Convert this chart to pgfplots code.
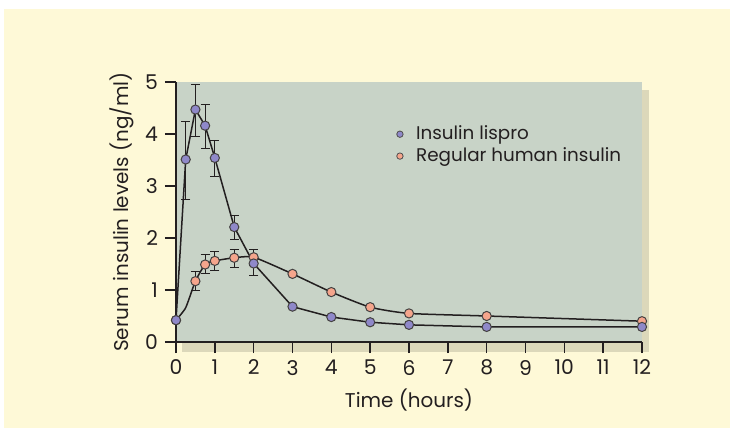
\documentclass[border=0pt]{standalone}
\usepackage{fontspec}
\setmainfont{Poppins}
\usepackage{pgfplots}
\pgfplotsset{compat=1.18}
\definecolor{cream}{HTML}{FEF9D7}
\definecolor{plotbg}{HTML}{C8D3C7}
\definecolor{shadowc}{HTML}{DCD8BA}
\definecolor{lispro}{HTML}{8F88C9}
\definecolor{regular}{HTML}{F5A58C}
\definecolor{ink}{HTML}{231F20}

\begin{document}
\begin{tikzpicture}
% background panels (axis box sits at (0,0) -- (233bp,130bp))
\fill[white] (-88bp,-44bp) rectangle (277bp,171bp);
\fill[cream] (-86bp,-43bp) rectangle (277bp,166.5bp);
\fill[shadowc] (3bp,-5bp) rectangle (236.5bp,126bp);
\begin{axis}[scale only axis, width=233bp, height=130bp,
  axis background/.style={fill=plotbg},
  xmin=0, xmax=12, ymin=0, ymax=5,
  axis x line*=bottom, axis y line*=left,
  axis line style={ink, line width=0.7bp},
  xtick={0,...,12}, ytick={0,...,5},
  tick style={ink, line width=0.7bp},
  tick align=outside, major tick length=5.5bp,
  /pgf/number format/assume math mode=true,
  tick label style={font=\fontsize{10.2}{12}\selectfont, text=ink},
  label style={font=\fontsize{10}{12}\selectfont, text=ink},
  xlabel={Time (hours)}, ylabel={Serum insulin levels (ng/ml)},
  xlabel style={at={(axis description cs:0.5,0)}, anchor=center, yshift=-29bp},
  ylabel style={at={(axis description cs:0,0.5)}, anchor=center, yshift=27bp},
  legend style={draw=none, fill=none, at={(axis cs:5.52,4.32)}, anchor=north west,
    font=\fontsize{9.2}{11}\selectfont, text=ink, row sep=-1.5bp,
    /tikz/every odd column/.style={column sep=4.5bp}},
  legend cell align=left,
  legend image code/.code={\draw[#1] plot coordinates {(0bp,0bp)};},
  err/.style={error bars/.cd, y dir=both, y explicit,
    error bar style={ink, line width=0.5bp},
    error mark options={rotate=90, mark size=2.3bp, line width=0.5bp, ink}},
  dot/.style={only marks, mark=*, mark size=2.3bp,
    mark options={fill=#1, draw=ink!85, line width=0.5bp}},
]
\addlegendimage{only marks, mark=*, mark size=1.6bp, mark options={fill=lispro, draw=ink!80, line width=0.4bp}}
\addlegendentry{Insulin lispro}
\addlegendimage{only marks, mark=*, mark size=1.6bp, mark options={fill=regular, draw=ink!80, line width=0.4bp}}
\addlegendentry{Regular human insulin}

% regular human insulin
\addplot[ink, line width=0.75bp, smooth, tension=0.35, no marks, forget plot] coordinates {
  (0,0.42) (0.25,0.66) (0.5,1.17) (0.75,1.49) (1,1.56) (1.5,1.62) (2,1.63)
  (3,1.31) (4,0.96) (5,0.67) (6,0.55) (8,0.50) (12,0.40)};
\addplot[forget plot, dot=regular, err] coordinates {
  (0,0.42)
  (0.5,1.17) += (0,0.19) -= (0,0.18)
  (0.75,1.49) += (0,0.20) -= (0,0.18)
  (1,1.56) += (0,0.18) -= (0,0.18)
  (1.5,1.62) += (0,0.16) -= (0,0.18)
  (2,1.63) += (0,0.15) -= (0,0.15)
  (3,1.31) (4,0.96) (5,0.67) (6,0.55) (8,0.50) (12,0.40)};

% insulin lispro
\addplot[ink, line width=0.75bp, sharp plot, no marks, forget plot] coordinates {
  (0,0.42) (0.25,3.51) (0.5,4.47) (0.75,4.16) (1,3.54) (1.5,2.21) (2,1.51)
  (3,0.68) (4,0.48) (5,0.38) (6,0.33) (8,0.29) (12,0.29)};
\addplot[forget plot, dot=lispro, err] coordinates {
  (0,0.42)
  (0.25,3.51) += (0,0.74) -= (0,0.77)
  (0.5,4.47) += (0,0.49) -= (0,0.51)
  (0.75,4.16) += (0,0.41) -= (0,0.44)
  (1,3.54) += (0,0.33) -= (0,0.35)
  (1.5,2.21) += (0,0.23) -= (0,0.24)
  (2,1.51) += (0,0.27) -= (0,0.23)
  (3,0.68) (4,0.48) (5,0.38) (6,0.33) (8,0.29) (12,0.29)};
\end{axis}
\pgfresetboundingbox
\useasboundingbox (-88bp,-44bp) rectangle (277bp,171bp);
\end{tikzpicture}
\end{document}
